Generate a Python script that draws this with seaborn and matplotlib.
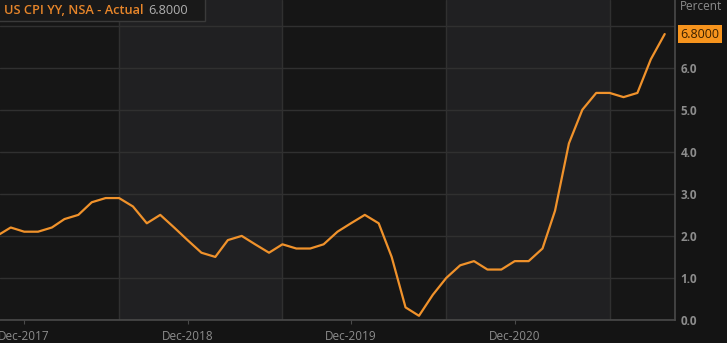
import matplotlib
matplotlib.use("Agg")
import matplotlib.pyplot as plt
import matplotlib.patches as mpatches
import numpy as np
import pandas as pd
import seaborn as sns

# ---- data ----
months = pd.date_range("2017-10-01", "2021-11-01", freq="MS")
cpi_yoy = [2.0, 2.2, 2.1,
           2.1, 2.2, 2.4, 2.5, 2.8, 2.9, 2.9, 2.7, 2.3, 2.5, 2.2, 1.9,
           1.6, 1.5, 1.9, 2.0, 1.8, 1.6, 1.8, 1.7, 1.7, 1.8, 2.1, 2.3,
           2.5, 2.3, 1.5, 0.3, 0.1, 0.6, 1.0, 1.3, 1.4, 1.2, 1.2, 1.4,
           1.4, 1.7, 2.6, 4.2, 5.0, 5.4, 5.4, 5.3, 5.4, 6.2, 6.8]
series_name = "US CPI YY, NSA - Actual"
last_label = "6.8000"
x_ticks = ["2017-12-01", "2018-12-01", "2019-12-01", "2020-12-01"]
x_tick_labels = ["Dec-2017", "Dec-2018", "Dec-2019", "Dec-2020"]
y_ticks = [0, 1, 2, 3, 4, 5, 6]
band_edges = ["2018-07-01", "2019-07-01", "2020-07-01", "2021-07-01"]

df = pd.DataFrame({"date": months, "value": cpi_yoy})

BG_DARK = "#161616"
BG_LIGHT = "#202022"
GRID = "#303030"
AX_LINE = "#4a4a4a"
TXT = "#8c8c8c"
ORANGE = "#f0922b"
W, H = 727, 343

sns.set_style("dark")
plt.rcParams["font.family"] = ["Open Sans", "DejaVu Sans"]

fig = plt.figure(figsize=(W / 100, H / 100), dpi=100, facecolor="#141414")
ax = fig.add_axes([0.0, 23 / H, 675 / W, 320 / H])
ax.set_facecolor(BG_DARK)

edges = pd.to_datetime(band_edges)
ax.axvspan(edges[0], edges[1], color=BG_LIGHT, zorder=0, lw=0)
ax.axvspan(edges[2], edges[3], color=BG_LIGHT, zorder=0, lw=0)
for e in edges:
    ax.axvline(e, color=GRID, lw=1, zorder=1)
for yv in y_ticks + [7]:
    ax.axhline(yv, color=GRID, lw=1, zorder=1)

sns.lineplot(data=df, x="date", y="value", ax=ax, color=ORANGE, lw=1.6, zorder=3)

ax.set_xlim(pd.Timestamp("2017-10-08"), pd.Timestamp("2021-11-24"))
ax.set_ylim(0, 7.61)
ax.grid(False)
ax.set_xlabel("")
ax.set_ylabel("")

for s in ["top", "left"]:
    ax.spines[s].set_visible(False)
for s in ["bottom", "right"]:
    ax.spines[s].set_visible(True)
    ax.spines[s].set_color(AX_LINE)
    ax.spines[s].set_linewidth(1.2)

ax.yaxis.tick_right()
ax.set_yticks(y_ticks)
ax.set_yticklabels([f"{v:.1f}" for v in y_ticks], fontsize=8.5, color=TXT, fontweight="bold")
ax.tick_params(axis="y", length=0, pad=4)
ax.set_xticks(pd.to_datetime(x_ticks))
ax.set_xticklabels(x_tick_labels, fontsize=8.5, color=TXT)
ax.tick_params(axis="x", length=3, color=AX_LINE, pad=4, direction="out", bottom=True)

# Percent label
fig.text(680 / W, 1 - 7 / H, "Percent", fontsize=8.5, color=TXT, va="center", ha="left")

# last value box
ax.annotate(last_label, xy=(1.0, cpi_yoy[-1]), xycoords=("axes fraction", "data"),
            xytext=(4, 0), textcoords="offset points", fontsize=9, color="#3a2000",
            va="center", ha="left",
            bbox=dict(boxstyle="square,pad=0.2", fc="#f7941d", ec="none"))

# legend box
t1 = fig.text(4 / W, 1 - 10.5 / H, series_name, fontsize=9.2, color="#e8862a",
              va="center", ha="left", fontweight="semibold", zorder=5)
fig.canvas.draw()
bb = t1.get_window_extent()
t2 = fig.text((bb.x1 + 5) / W, 1 - 10.5 / H, last_label, fontsize=9.2, color="#b0b0b0",
              va="center", ha="left", zorder=5)
fig.canvas.draw()
bb2 = t2.get_window_extent()
box_right = bb2.x1 + 17
rect = mpatches.Rectangle((-2 / W, 1 - 21 / H), (box_right + 2) / W, 23 / H,
                          transform=fig.transFigure, fc="#191919", ec="#3a3a3a",
                          lw=1, zorder=4)
fig.add_artist(rect)

fig.savefig("out.png", dpi=100, facecolor=fig.get_facecolor())
